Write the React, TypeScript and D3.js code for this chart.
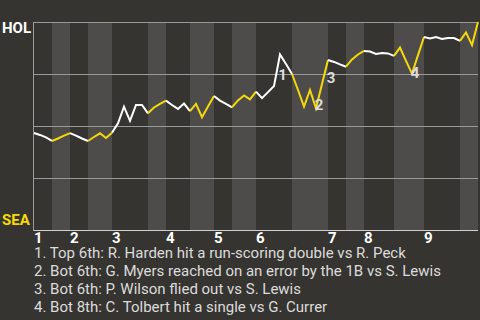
import React from "react";
import * as d3 from "d3";

// Plate appearances per half-inning (top 1, bottom 1, ..., bottom 9)
const halfInningPAs = [3, 3, 3, 4, 6, 3, 4, 4, 3, 4, 6, 6, 3, 3, 5, 5, 6, 3];
// HOL win probability after each plate appearance (first value = game start)
const winProb = [
  0.466, 0.457, 0.445, 0.428,
  0.44, 0.454, 0.466,
  0.454, 0.44, 0.428,
  0.447, 0.465, 0.442, 0.468,
  0.513, 0.593, 0.525, 0.601, 0.601, 0.561,
  0.589, 0.606, 0.622,
  0.601, 0.582, 0.608, 0.572,
  0.606, 0.542, 0.594, 0.644,
  0.622, 0.606, 0.59,
  0.623, 0.647, 0.628, 0.665,
  0.634, 0.663, 0.692, 0.844, 0.798, 0.75,
  0.673, 0.593, 0.673, 0.585, 0.702, 0.817,
  0.808, 0.796, 0.785,
  0.82, 0.844, 0.861,
  0.858, 0.846, 0.851, 0.849, 0.837,
  0.877, 0.813, 0.752, 0.841, 0.928,
  0.921, 0.928, 0.918, 0.923, 0.923, 0.909,
  0.95, 0.889, 1.0,
];
const innings = ["1", "2", "3", "4", "5", "6", "7", "8", "9"];
const homeTeam = "HOL";
const awayTeam = "SEA";
const gridTicks = [0, 0.25, 0.5, 0.75, 1];
const annotationLabels = ["1", "2", "3", "4"];
const annotationPoints = [41, 47, 49, 63];
const notes = [
  "1. Top 6th: R. Harden hit a run-scoring double vs R. Peck",
  "2. Bot 6th: G. Myers reached on an error by the 1B vs S. Lewis",
  "3. Bot 6th: P. Wilson flied out vs S. Lewis",
  "4. Bot 8th: C. Tolbert hit a single vs G. Currer",
];

// label offsets (styling)
const annotationOffsets: [number, number][] = [
  [2.5, 25.5],
  [3, 2],
  [3, 23],
  [3, 4],
];

const W = 480;
const H = 320;
const M = { left: 34, right: 2, top: 22, bottom: 90 };
const BG = "#363430";
const STRIPE = "#4d4c4a";
const YELLOW = "#f5d90a";
const FONT = "Roboto, 'Noto Sans', sans-serif";

export default function App() {
  const totalPAs = d3.sum(halfInningPAs);
  const x = d3.scaleLinear().domain([0, totalPAs]).range([M.left, W - M.right]);
  const y = d3.scaleLinear().domain([0, 1]).range([H - M.bottom, M.top]);

  const starts = d3.cumsum([0, ...halfInningPAs]); // boundaries
  const line = d3
    .line<number>()
    .x((_, i) => 0)
    .y((d) => y(d));

  const halfPaths = halfInningPAs.map((n, h) => {
    const s = starts[h];
    const pts = winProb.slice(s, s + n + 1).map((v, k) => [x(s + k), y(v)] as [number, number]);
    return d3.line()(pts) as string;
  });

  return (
    <svg
      width={W}
      height={H}
      style={{ position: "fixed", left: 0, top: 0, display: "block" }}
      fontFamily={FONT}
    >
      <rect x={0} y={0} width={W} height={H} fill={BG} />
      {halfInningPAs.map((n, h) => (
        <rect
          key={"s" + h}
          x={x(starts[h])}
          y={y(1)}
          width={x(starts[h] + n) - x(starts[h])}
          height={y(0) - y(1)}
          fill={h % 2 === 1 ? STRIPE : BG}
        />
      ))}
      {gridTicks.map((t) => (
        <line
          key={"g" + t}
          x1={x(0)}
          x2={x(totalPAs)}
          y1={Math.round(y(t)) + 0.5}
          y2={Math.round(y(t)) + 0.5}
          stroke={t === 0 ? "#d0d0d0" : "#9a9a9a"}
          strokeWidth={1}
        />
      ))}
      <line x1={x(0) - 0.5} x2={x(0) - 0.5} y1={y(1)} y2={y(0) + 1} stroke="#9a9a9a" strokeWidth={1} />
      {halfPaths.map((p, h) => (
        <path
          key={"p" + h}
          d={p}
          fill="none"
          stroke={h % 2 === 0 ? "#ffffff" : YELLOW}
          strokeWidth={2}
          strokeLinejoin="miter"
        />
      ))}
      {annotationLabels.map((lab, k) => (
        <text
          key={"a" + k}
          x={x(annotationPoints[k]) + annotationOffsets[k][0]}
          y={y(winProb[annotationPoints[k]]) + annotationOffsets[k][1]}
          textAnchor="middle"
          fontSize={15}
          fontWeight="bold"
          fill="#dcdcdc"
        >
          {lab}
        </text>
      ))}
      <text x={2} y={y(1) + 11.3} fontSize={15} fontWeight="bold" fill="#ffffff">
        {homeTeam}
      </text>
      <text x={2} y={y(0) - 5} fontSize={15} fontWeight="bold" fill={YELLOW}>
        {awayTeam}
      </text>
      {innings.map((lab, i) => (
        <text key={"i" + i} x={x(starts[i * 2])} y={y(0) + 13} fontSize={15} fontWeight="bold" fill="#ffffff">
          {lab}
        </text>
      ))}
      {notes.map((n, i) => (
        <text key={"n" + i} x={34} y={258.3 + i * 18} fontSize={15} fill="#dcdcdc">
          {n}
        </text>
      ))}
    </svg>
  );
}
